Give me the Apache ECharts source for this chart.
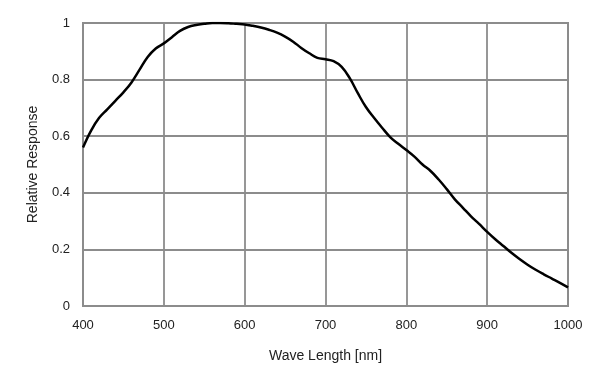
<!DOCTYPE html>
<html>
<head>
<meta charset="utf-8">
<script src="https://cdn.jsdelivr.net/npm/echarts@6/dist/echarts.min.js"></script>
<style>html,body{margin:0;padding:0;background:#fff}#c{width:606px;height:371px}</style>
</head>
<body>
<div id="c"></div>
<script>
const wavelengths = [400,410,420,430,440,450,460,470,480,490,500,510,520,530,540,550,560,570,580,590,600,610,620,630,640,650,660,670,680,690,700,710,720,730,740,750,760,770,780,790,800,810,820,830,840,850,860,870,880,890,900,910,920,930,940,950,960,970,980,990,1000];
const response = [0.56,0.62,0.665,0.695,0.725,0.755,0.79,0.835,0.88,0.91,0.928,0.95,0.972,0.986,0.993,0.997,1.0,1.0,0.999,0.997,0.995,0.99,0.984,0.976,0.966,0.952,0.934,0.912,0.893,0.877,0.872,0.865,0.845,0.805,0.752,0.703,0.665,0.63,0.597,0.573,0.551,0.528,0.50,0.477,0.447,0.413,0.377,0.347,0.317,0.29,0.262,0.236,0.212,0.188,0.166,0.146,0.128,0.112,0.097,0.082,0.066];
const xAxisName = 'Wave Length [nm]';
const yAxisName = 'Relative Response';

const chart = echarts.init(document.getElementById('c'), null, {renderer:'canvas'});
const gridColor = '#8c8c8c';
const font = 'Liberation Sans, Arial, sans-serif';
chart.setOption({
  animation:false,
  grid:{left:83,right:38,top:23,bottom:65,show:true,borderColor:gridColor,borderWidth:2},
  xAxis:{
    type:'value',min:400,max:1000,interval:100,
    name:xAxisName,nameLocation:'middle',nameGap:43,
    nameTextStyle:{fontFamily:font,fontSize:14,color:'#222'},
    axisLine:{show:true,lineStyle:{color:gridColor,width:2}},
    axisTick:{show:false},
    axisLabel:{margin:13,fontFamily:font,fontSize:13,color:'#222',formatter:v=>String(v)},
    splitLine:{show:true,lineStyle:{color:gridColor,width:1.8}}
  },
  yAxis:{
    type:'value',min:0,max:1,interval:0.2,
    name:yAxisName,nameLocation:'middle',nameGap:43,
    nameTextStyle:{fontFamily:font,fontSize:14,color:'#222'},
    axisLine:{show:true,lineStyle:{color:gridColor,width:2}},
    axisTick:{show:false},
    axisLabel:{margin:13,fontFamily:font,fontSize:13,color:'#222',formatter:v=>String(Math.round(v*10)/10)},
    splitLine:{show:true,lineStyle:{color:gridColor,width:1.8}}
  },
  series:[{
    type:'line',data:wavelengths.map((w,i)=>[w,response[i]]),
    smooth:0.4,showSymbol:false,
    lineStyle:{color:'#000',width:2.5}
  }]
});
</script>
</body>
</html>
